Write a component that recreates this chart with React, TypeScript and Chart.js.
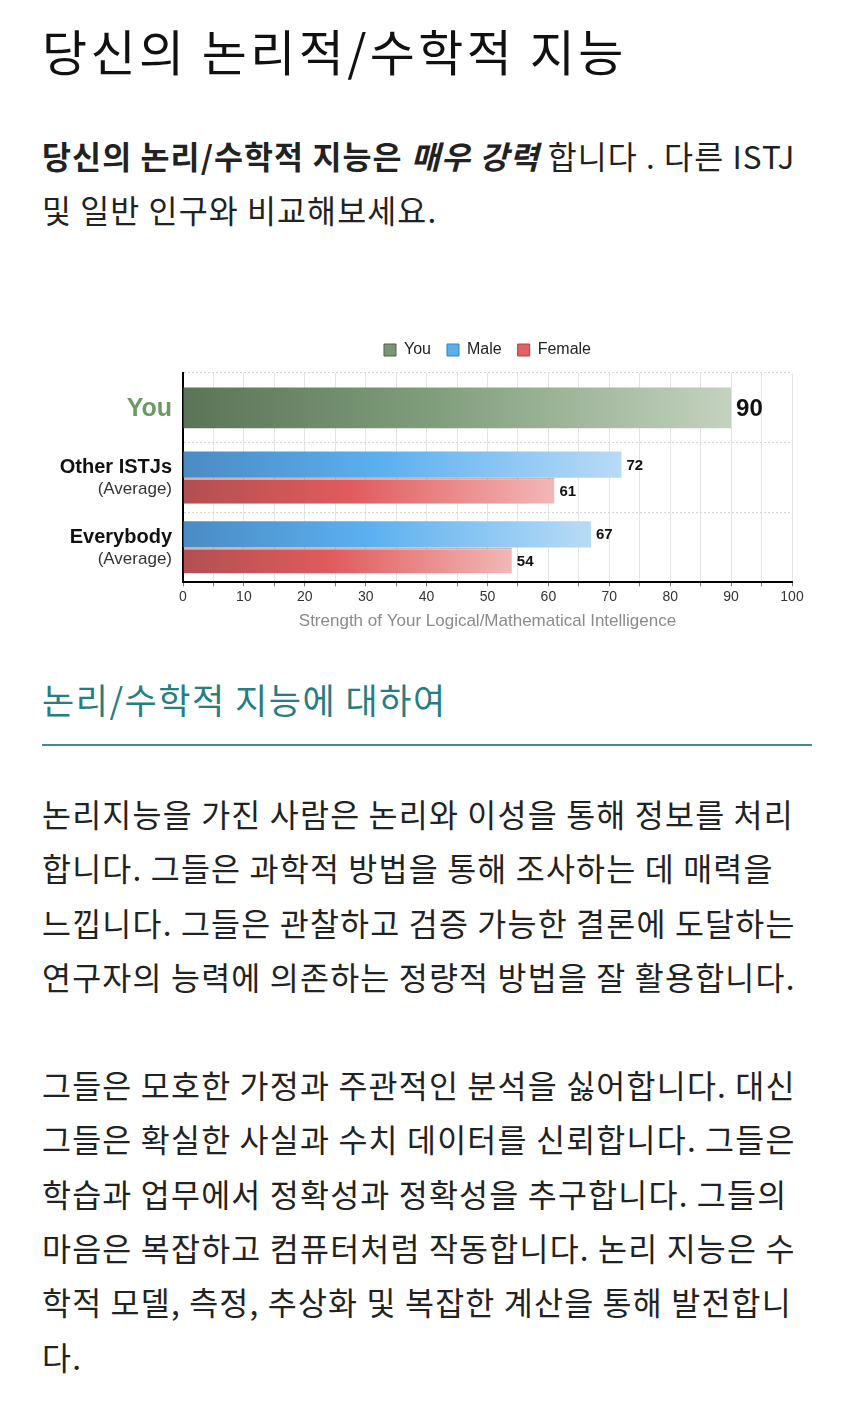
import React, { useEffect, useRef } from 'react';
import { Chart, registerables } from 'chart.js';

Chart.register(...registerables);

// ---------- data ----------
const categories = ['You', 'Other ISTJs', 'Everybody'];
const categorySubLabels = ['', '(Average)', '(Average)'];
const youValues = [90, null, null];
const maleValues = [null, 72, 67];
const femaleValues = [null, 61, 54];
const legendLabels = ['You', 'Male', 'Female'];
const xMin = 0;
const xMax = 100;
const xStep = 5;
const xLabelEvery = 10;
const xAxisTitle = 'Strength of Your Logical/Mathematical Intelligence';

// ---------- page text ----------
const pageTitle = '당신의 논리적/수학적 지능';
const introBold = '당신의 논리/수학적 지능은 ';
const introBoldItalic = '매우 강력';
const introRest = ' 합니다 . 다른 ISTJ';
const introLine2 = '및 일반 인구와 비교해보세요.';
const sectionTitle = '논리/수학적 지능에 대하여';
const paragraph1 = [
  '논리지능을 가진 사람은 논리와 이성을 통해 정보를 처리',
  '합니다. 그들은 과학적 방법을 통해 조사하는 데 매력을',
  '느낍니다. 그들은 관찰하고 검증 가능한 결론에 도달하는',
  '연구자의 능력에 의존하는 정량적 방법을 잘 활용합니다.',
];
const paragraph2 = [
  '그들은 모호한 가정과 주관적인 분석을 싫어합니다. 대신',
  '그들은 확실한 사실과 수치 데이터를 신뢰합니다. 그들은',
  '학습과 업무에서 정확성과 정확성을 추구합니다. 그들의',
  '마음은 복잡하고 컴퓨터처럼 작동합니다. 논리 지능은 수',
  '학적 모델, 측정, 추상화 및 복잡한 계산을 통해 발전합니',
  '다.',
];

// ---------- styles ----------
const FONT = '"Liberation Sans", Arial, Helvetica, sans-serif';
const youStops = ['#5a7457', '#7f9d7b', '#c4d2bf'];
const maleStops = ['#4a8bc4', '#5bb0ef', '#b8dbf6'];
const femaleStops = ['#b24f51', '#e15b5d', '#f3b7b7'];
const legendFill = ['#7a9676', '#5aaeea', '#e06262'];
const legendStroke = ['#4d634a', '#3a7fb5', '#a84040'];

function barGradient(stops: string[]) {
  return (ctx: any) => {
    const chart = ctx.chart;
    const xs = chart.scales && chart.scales.x;
    const v = ctx.raw;
    if (!chart.chartArea || !xs || typeof v !== 'number') return stops[1];
    const x0 = xs.getPixelForValue(0);
    const x1 = xs.getPixelForValue(v);
    if (!isFinite(x0) || !isFinite(x1) || x1 === x0) return stops[1];
    const g = chart.ctx.createLinearGradient(x0, 0, x1, 0);
    g.addColorStop(0, stops[0]);
    g.addColorStop(0.45, stops[1]);
    g.addColorStop(1, stops[2]);
    return g;
  };
}

const legendGapPlugin = {
  id: 'legendGap',
  beforeLayout(chart: any) {
    const lg = chart.legend;
    if (lg && !lg.__gapPatched) {
      const orig = lg.fit.bind(lg);
      lg.fit = function () {
        orig();
        this.height += 5;
      };
      lg.__gapPatched = true;
    }
  },
};

const yLabelPlugin = {
  id: 'yLabels',
  afterDraw(chart: any) {
    const ys = chart.scales.y;
    const ctx = chart.ctx;
    const x = chart.chartArea.left - 11;
    ctx.save();
    ctx.textAlign = 'right';
    ctx.textBaseline = 'middle';
    categories.forEach((c, i) => {
      const y = ys.getPixelForValue(i);
      if (!categorySubLabels[i]) {
        ctx.font = `bold 25px ${FONT}`;
        ctx.fillStyle = '#6c9a63';
        ctx.fillText(c, x, y + 1);
      } else {
        ctx.font = `bold 20px ${FONT}`;
        ctx.fillStyle = '#111';
        ctx.fillText(c, x, y - 10);
        ctx.font = `17px ${FONT}`;
        ctx.fillStyle = '#333';
        ctx.fillText(categorySubLabels[i], x, y + 12);
      }
    });
    ctx.restore();
  },
};

const valueLabelPlugin = {
  id: 'valueLabels',
  afterDatasetsDraw(chart: any) {
    const ctx = chart.ctx;
    ctx.save();
    ctx.textAlign = 'left';
    ctx.textBaseline = 'middle';
    ctx.fillStyle = '#111';
    chart.data.datasets.forEach((ds: any, di: number) => {
      const meta = chart.getDatasetMeta(di);
      meta.data.forEach((el: any, i: number) => {
        const v = ds.data[i];
        if (v == null) return;
        ctx.font = di === 0 ? `bold 24px ${FONT}` : `bold 15px ${FONT}`;
        ctx.fillText(String(v), el.x + 5, el.y + 1);
      });
    });
    ctx.restore();
  },
};

function BarChart() {
  const ref = useRef<HTMLCanvasElement | null>(null);
  useEffect(() => {
    if (!ref.current) return;
    const chart = new Chart(ref.current, {
      type: 'bar',
      data: {
        labels: categories,
        datasets: [
          {
            label: legendLabels[0],
            data: youValues,
            backgroundColor: barGradient(youStops),
            borderWidth: 0,
            barPercentage: 0.78,
            categoryPercentage: 0.75,
            skipNull: true,
          },
          {
            label: legendLabels[1],
            data: maleValues,
            backgroundColor: barGradient(maleStops),
            borderWidth: 0,
            barPercentage: 1,
            categoryPercentage: 0.75,
            skipNull: true,
          },
          {
            label: legendLabels[2],
            data: femaleValues,
            backgroundColor: barGradient(femaleStops),
            borderColor: 'rgba(120,35,35,0.35)',
            borderWidth: { top: 2, right: 0, bottom: 0, left: 0 },
            borderSkipped: false,
            barPercentage: 1,
            categoryPercentage: 0.75,
            skipNull: true,
          },
        ],
      } as any,
      options: {
        indexAxis: 'y',
        animation: false,
        responsive: true,
        maintainAspectRatio: false,
        events: [],
        layout: { padding: { left: 0, right: 20, top: 0, bottom: 5.5 } },
        plugins: {
          legend: {
            position: 'top',
            fullSize: false,
            align: 'center',
            labels: {
              boxWidth: 12,
              boxHeight: 12,
              padding: 16,
              color: '#222',
              font: { size: 16, family: FONT },
              generateLabels: () =>
                legendLabels.map((t, i) => ({
                  text: t,
                  fillStyle: legendFill[i],
                  strokeStyle: legendStroke[i],
                  lineWidth: 1,
                  hidden: false,
                  datasetIndex: i,
                  fontColor: '#222',
                })),
            },
          },
          tooltip: { enabled: false },
        },
        scales: {
          x: {
            type: 'linear',
            min: xMin,
            max: xMax,
            position: 'bottom',
            ticks: {
              stepSize: xStep,
              autoSkip: false,
              maxRotation: 0,
              padding: 2,
              color: '#333',
              font: { size: 14, family: FONT },
              callback: (v: any) => (Number(v) % xLabelEvery === 0 ? String(v) : ''),
            },
            grid: { color: '#e4e4e4', lineWidth: 1, tickLength: 4, tickColor: '#777' },
            border: { color: '#000', width: 2 },
            title: {
              display: true,
              text: xAxisTitle,
              color: '#8a8a8a',
              font: { size: 17, family: FONT },
              padding: { top: 4, bottom: 0 },
            },
          },
          y: {
            type: 'category',
            offset: true,
            grid: { offset: true, color: '#d6d6d6', drawTicks: false },
            border: { color: '#000', width: 2, dash: [2, 2] },
            ticks: { display: false },
            afterFit: (s: any) => {
              s.width = 141;
            },
          },
        },
      } as any,
      plugins: [legendGapPlugin, yLabelPlugin, valueLabelPlugin],
    });
    return () => chart.destroy();
  }, []);
  return (
    <div style={{ position: 'relative', width: 770, height: 311, marginTop: 90 }}>
      <canvas ref={ref} />
    </div>
  );
}

export default function App() {
  const para: React.CSSProperties = {
    fontSize: 31.5,
    letterSpacing: '1.2px',
    lineHeight: '54.3px',
    whiteSpace: 'nowrap',
    color: '#222',
  };
  return (
    <div
      style={{
        paddingTop: 12,
        paddingLeft: 34,
        width: 770,
        fontFamily: '"Noto Sans CJK KR", "Noto Sans", sans-serif',
        color: '#222',
      }}
    >
      <div
        style={{
          fontSize: 49,
          letterSpacing: '3.4px',
          lineHeight: '60px',
          height: 60,
          color: '#111',
          whiteSpace: 'nowrap',
        }}
      >
        {pageTitle}
      </div>
      <div
        style={{
          marginTop: 48,
          fontSize: 31.5,
          letterSpacing: '1.1px',
          lineHeight: '54px',
          whiteSpace: 'nowrap',
          color: '#222',
        }}
      >
        <div>
          <b>{introBold}</b>
          <b>
            <i>{introBoldItalic}</i>
          </b>
          {introRest}
        </div>
        <div>{introLine2}</div>
      </div>
      <BarChart />
      <div
        style={{
          marginTop: 37,
          fontSize: 35,
          letterSpacing: '1.5px',
          lineHeight: '50px',
          height: 50,
          color: '#267d82',
          whiteSpace: 'nowrap',
        }}
      >
        {sectionTitle}
      </div>
      <div style={{ marginTop: 20, height: 2, background: '#3f8d91' }} />
      <div style={{ ...para, marginTop: 40 }}>
        {paragraph1.map((l, i) => (
          <div key={i}>{l}</div>
        ))}
      </div>
      <div style={{ ...para, marginTop: 54 }}>
        {paragraph2.map((l, i) => (
          <div key={i}>{l}</div>
        ))}
      </div>
    </div>
  );
}
